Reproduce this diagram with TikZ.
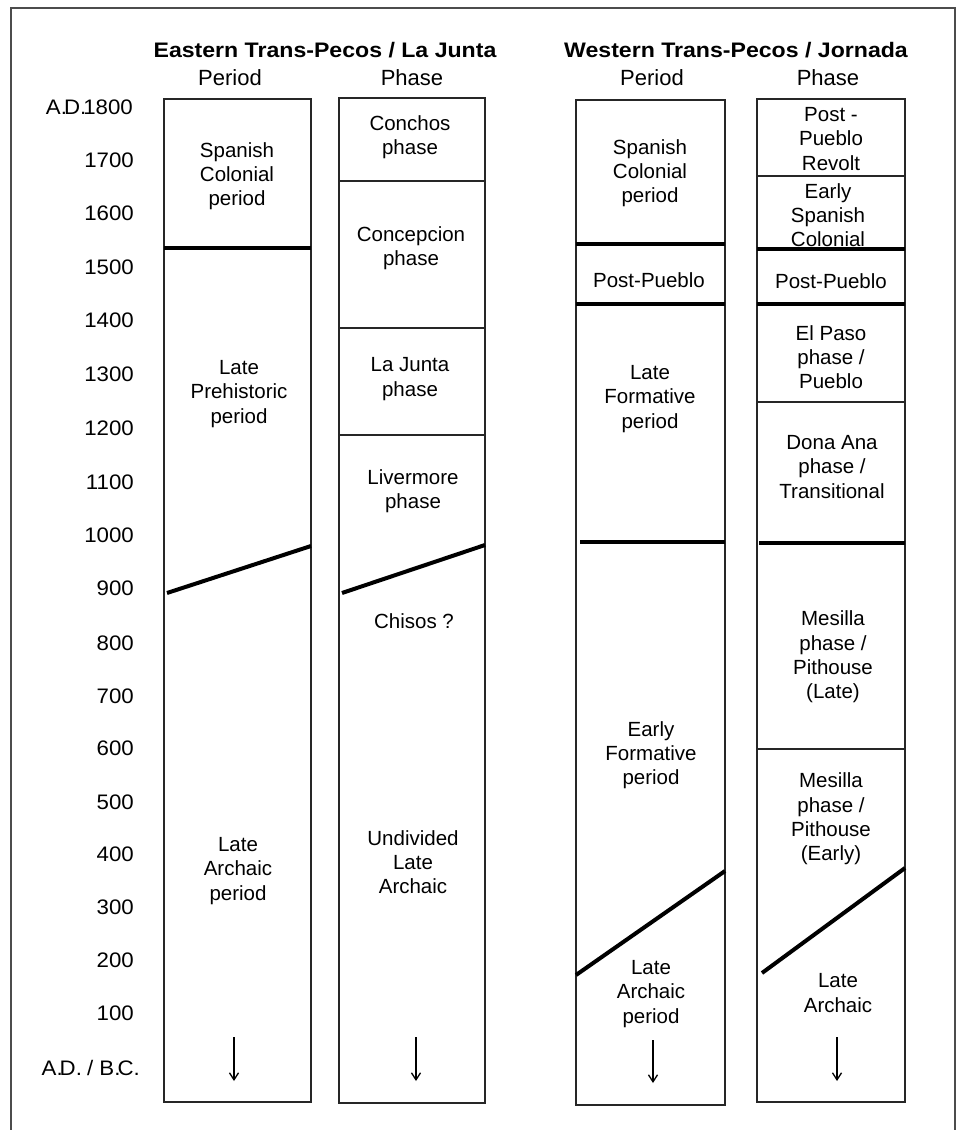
\documentclass[tikz,border=0pt]{standalone}
\usepackage{fontspec}
\setmainfont{Liberation Sans}
\newfontfamily\titlefont[FakeStretch=1.1]{Liberation Sans}
\newfontfamily\yearfont[FakeStretch=1.06]{Liberation Sans}
\usetikzlibrary{arrows.meta}
\newcommand{\dotk}{.\kern-3pt}
\begin{document}
\begin{tikzpicture}[x=1pt,y=-1pt,
  colbox/.style={draw=black!85,line width=1.4pt,inner sep=0pt,outer sep=0pt,anchor=north west},
  lbl/.style={align=center,inner sep=0pt,font=\fontsize{20.5}{24.3}\selectfont},
  yr/.style={anchor=east,inner sep=0pt,font=\yearfont\fontsize{21}{24}\selectfont},
  ttl/.style={inner sep=0pt,font=\titlefont\bfseries\fontsize{21}{24}\selectfont},
  hdr/.style={inner sep=0pt,font=\fontsize{22}{24}\selectfont},
  thin/.style={line width=1.2pt,draw=black!85},
  heavy/.style={line width=4pt},
  down/.style={line width=1.3pt,-{Straight Barb[length=7pt,width=9pt,line width=1.3pt]}}
]
\useasboundingbox (0,0) rectangle (957,1130);
% outer frame
\draw[line width=2pt,black!70] (11,1130) -- (11,8) -- (955,8) -- (955,1130);

% titles
\node[ttl] (tE) at (325,50) {Eastern Trans-Pecos / La Junta};
\node[ttl] (tW) at (736,50) {Western Trans-Pecos / Jornada};
\node[hdr] (hE1) at (230,78) {Period};
\node[hdr] (hE2) at (412,78) {Phase};
\node[hdr] (hW1) at (652,78) {Period};
\node[hdr] (hW2) at (828,78) {Phase};

% year axis
\node[yr] (y1800) at (133,107) {A\dotk D\dotk 1800};
\foreach \yv/\yy in {1700/160,1600/213,1500/267,1400/320,1300/374,1200/428,1100/482,1000/535,900/588,800/643,700/696,600/748,500/802,400/854,300/907,200/960,100/1013}
  \node[yr] (y\yv) at (134,\yy) {\yv};
\node[yr] (y0) at (140,1068) {A\dotk D.\kern-1pt\ /\ B\dotk C.};

% column boxes
\node[colbox,minimum width=147pt,minimum height=1003pt] (c1) at (164,99) {};
\node[colbox,minimum width=146pt,minimum height=1005pt] (c2) at (339,98) {};
\node[colbox,minimum width=149pt,minimum height=1005pt] (c3) at (576,100) {};
\node[colbox,minimum width=148pt,minimum height=1003pt] (c4) at (757,99) {};

% ---- column 1: Eastern period
\draw[heavy] (c1.west |- 0,248) -- (c1.east |- 0,248);
\draw[heavy] (167,593) -- (c1.east |- 0,546);
\node[lbl] (e1a) at (237,176) {Spanish\\Colonial\\period};
\node[lbl] (e1b) at (239,394) {Late\\Prehistoric\\period};
\node[lbl] (e1c) at (238,871) {Late\\Archaic\\period};
\coordinate (a1s) at (234,1037);
\coordinate (a1e) at (234,1081);
\draw[down] (a1s) -- (a1e);

% ---- column 2: Eastern phase
\draw[thin] (c2.west |- 0,181) -- (c2.east |- 0,181);
\draw[thin] (c2.west |- 0,328) -- (c2.east |- 0,328);
\draw[thin] (c2.west |- 0,435) -- (c2.east |- 0,435);
\draw[heavy] (342,593) -- (c2.east |- 0,545);
\node[lbl] (e2a) at (410,137) {Conchos\\phase};
\node[lbl] (e2b) at (411,248) {Concepcion\\phase};
\node[lbl] (e2c) at (410,379) {La Junta\\phase};
\node[lbl] (e2d) at (413,491) {Livermore\\phase};
\node[lbl] (e2e) at (414,621) {Chisos ?};
\node[lbl] (e2f) at (413,862) {Undivided\\Late\\Archaic};
\coordinate (a2s) at (416,1037);
\coordinate (a2e) at (416,1081);
\draw[down] (a2s) -- (a2e);

% ---- column 3: Western period
\draw[heavy] (c3.west |- 0,244) -- (c3.east |- 0,244);
\draw[heavy] (c3.west |- 0,304) -- (c3.east |- 0,304);
\draw[heavy] (580,542) -- (c3.east |- 0,542);
\draw[heavy] (c3.west |- 0,975) -- (c3.east |- 0,871);
\node[lbl] (w1a) at (650,173) {Spanish\\Colonial\\period};
\node[lbl] (w1b) at (649,280) {Post-Pueblo};
\node[lbl] (w1c) at (650,399) {Late\\Formative\\period};
\node[lbl] (w1d) at (651,755) {Early\\Formative\\period};
\node[lbl] (w1e) at (651,994) {Late\\Archaic\\period};
\coordinate (a3s) at (653,1040);
\coordinate (a3e) at (653,1083);
\draw[down] (a3s) -- (a3e);

% ---- column 4: Western phase
\draw[thin] (c4.west |- 0,176) -- (c4.east |- 0,176);
\draw[heavy] (c4.west |- 0,249) -- (c4.east |- 0,249);
\draw[heavy] (c4.west |- 0,304) -- (c4.east |- 0,304);
\draw[thin] (c4.west |- 0,402) -- (c4.east |- 0,402);
\draw[heavy] (759,543) -- (c4.east |- 0,543);
\draw[thin] (c4.west |- 0,749) -- (c4.east |- 0,749);
\draw[heavy] (762,973) -- (c4.east |- 0,868);
\node[lbl] (w2a) at (831,139) {Post -\\Pueblo\\Revolt};
\node[lbl] (w2b) at (828,215) {Early\\Spanish\\Colonial};
\node[lbl] (w2c) at (831,281) {Post-Pueblo};
\node[lbl] (w2d) at (831,357) {El Paso\\phase /\\Pueblo};
\node[lbl] (w2e) at (832,467) {Dona Ana\\phase /\\Transitional};
\node[lbl] (w2f) at (833,657) {Mesilla\\phase /\\Pithouse\\(Late)};
\node[lbl] (w2g) at (831,819) {Mesilla\\phase /\\Pithouse\\(Early)};
\node[lbl] (w2h) at (838,993) {Late\\Archaic};
\coordinate (a4s) at (837,1037);
\coordinate (a4e) at (837,1081);
\draw[down] (a4s) -- (a4e);
\end{tikzpicture}
\end{document}
